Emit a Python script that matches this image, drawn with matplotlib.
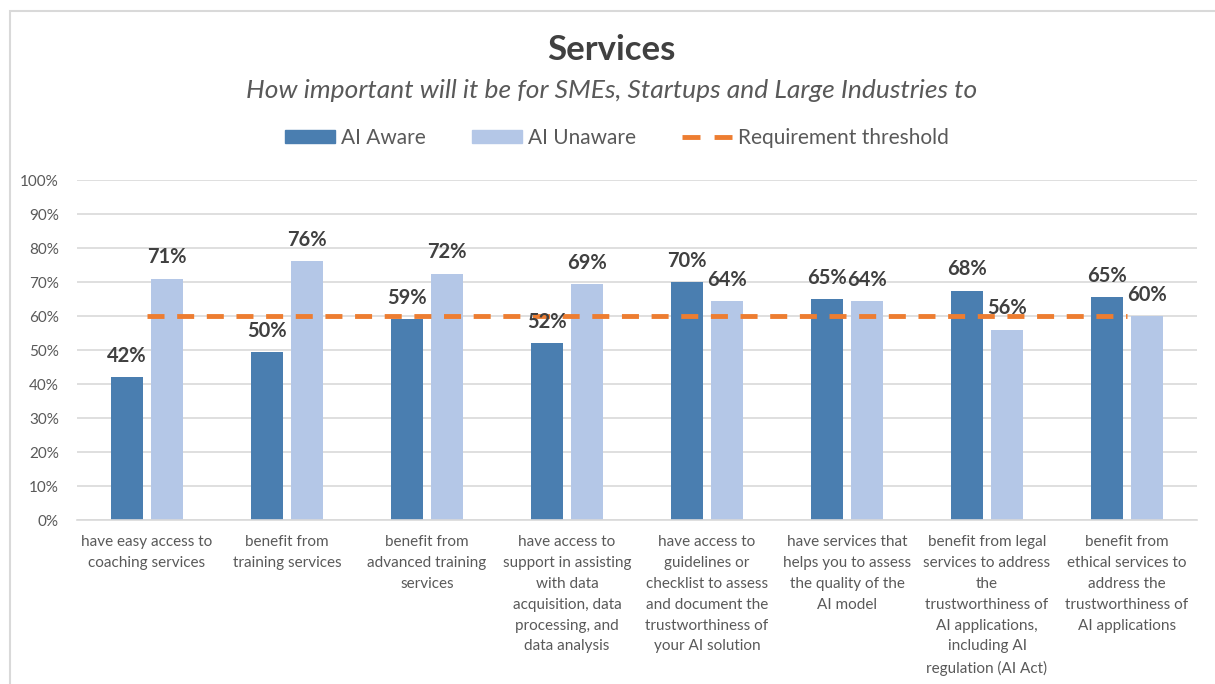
import matplotlib
matplotlib.use("Agg")
import matplotlib.pyplot as plt
import numpy as np
from matplotlib.patches import Rectangle
from matplotlib.lines import Line2D

categories = [
    "have easy access to\ncoaching services",
    "benefit from\ntraining services",
    "benefit from\nadvanced training\nservices",
    "have access to\nsupport in assisting\nwith data\nacquisition, data\nprocessing, and\ndata analysis",
    "have access to\nguidelines or\nchecklist to assess\nand document the\ntrustworthiness of\nyour AI solution",
    "have services that\nhelps you to assess\nthe quality of the\nAI model",
    "benefit from legal\nservices to address\nthe\ntrustworthiness of\nAI applications,\nincluding AI\nregulation (AI Act)",
    "benefit from\nethical services to\naddress the\ntrustworthiness of\nAI applications",
]
ai_aware = [0.42, 0.494, 0.59, 0.52, 0.70, 0.65, 0.675, 0.655]
ai_unaware = [0.71, 0.762, 0.725, 0.695, 0.645, 0.645, 0.56, 0.60]
aware_labels = ["42%", "50%", "59%", "52%", "70%", "65%", "68%", "65%"]
unaware_labels = ["71%", "76%", "72%", "69%", "64%", "64%", "56%", "60%"]
threshold = 0.60
yticks = [0, 0.1, 0.2, 0.3, 0.4, 0.5, 0.6, 0.7, 0.8, 0.9, 1.0]

DARK = "#4a7eb0"
LIGHT = "#b4c7e7"
ORANGE = "#ed7d31"
GREY = "#595959"

plt.rcParams['font.family'] = ['Lato', 'DejaVu Sans']

W, H = 1215, 684
fig = plt.figure(figsize=(W / 100, H / 100), dpi=100)
fig.patches.append(Rectangle((10 / W, -0.01), 1.2, (H - 11) / H + 0.01,
                             transform=fig.transFigure, fill=False,
                             edgecolor="#d9d9d9", linewidth=1.5))

ax = fig.add_axes([77 / W, (H - 520) / H, 1120 / W, 340 / H])
x = np.arange(len(categories))
off = 0.143
bw = 0.23
ax.bar(x - off, ai_aware, bw, color=DARK, zorder=2)
ax.bar(x + off, ai_unaware, bw, color=LIGHT, zorder=2)
ax.plot([x[0], x[-1]], [threshold, threshold], color=ORANGE, lw=3.5,
        dashes=(3.5, 2.6), zorder=3)

for i in range(len(x)):
    ax.annotate(aware_labels[i], (x[i] - off, ai_aware[i]), xytext=(0, 8),
                textcoords="offset points", ha="center", va="bottom",
                fontsize=14.5, fontweight="bold", color="#404040", zorder=5)
    ax.annotate(unaware_labels[i], (x[i] + off, ai_unaware[i]), xytext=(0, 8),
                textcoords="offset points", ha="center", va="bottom",
                fontsize=14.5, fontweight="bold", color="#404040", zorder=5)

ax.set_xlim(-0.5, len(categories) - 0.5)
ax.set_ylim(0, 1.0)
ax.set_yticks(yticks)
ax.set_yticklabels([f"{int(round(v * 100))}%" for v in yticks], fontsize=11, color=GREY)
ax.yaxis.grid(True, color="#d9d9d9", lw=1.2, zorder=0)
ax.set_axisbelow(True)
ax.tick_params(axis="y", length=0, pad=13)
ax.set_xticks(x)
ax.set_xticklabels(categories, fontsize=11, color=GREY, linespacing=1.62, va="top")
ax.tick_params(axis="x", length=0, pad=11)
for s in ["top", "right", "left"]:
    ax.spines[s].set_visible(False)
ax.spines["bottom"].set_color("#d9d9d9")
ax.spines["bottom"].set_linewidth(1.2)

fig.text(611 / W, 1 - 50 / H, "Services", ha="center", va="center",
         fontsize=25, fontweight="bold", color="#404040")
fig.text(612 / W, 1 - 90 / H, "How important will it be for SMEs, Startups and Large Industries to",
         ha="center", va="center", fontsize=19, style="italic", color=GREY)

handles = [Rectangle((0, 0), 1, 1, color=DARK),
           Rectangle((0, 0), 1, 1, color=LIGHT),
           Line2D([0], [0], color=ORANGE, lw=3.5, dashes=(3.7, 2.9))]
fig.legend(handles, ["AI Aware", "AI Unaware", "Requirement threshold"],
           loc="center", bbox_to_anchor=(617 / W, 1 - 138 / H), ncol=3,
           frameon=False, fontsize=15, labelcolor=GREY, handlelength=2.4,
           handleheight=0.55, handletextpad=0.3, columnspacing=2.2)

fig.savefig("out.png", dpi=100)
